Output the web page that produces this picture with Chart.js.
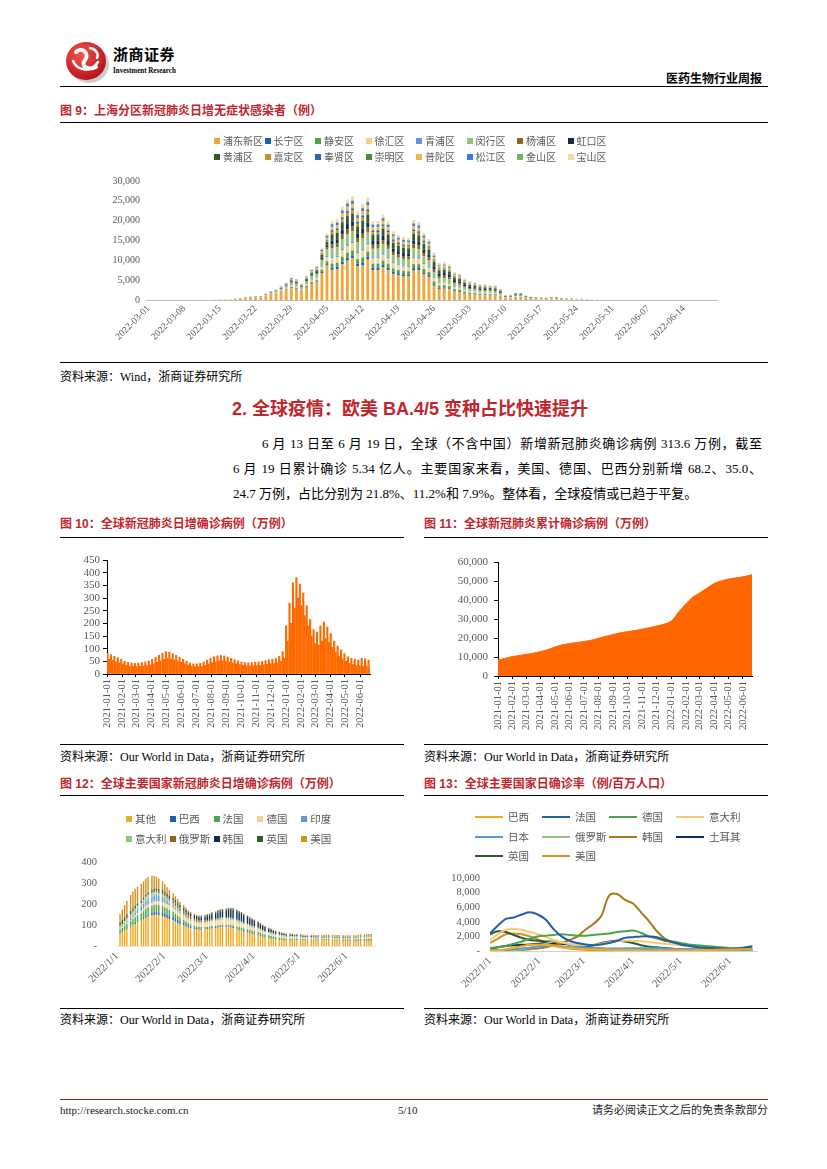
<!DOCTYPE html>
<html lang="zh-CN">
<head>
<meta charset="utf-8">
<title>医药生物行业周报 5/10</title>
<script src="https://cdn.jsdelivr.net/npm/chart.js@4.4.1/dist/chart.umd.min.js"></script>
<style>
    html, body { margin: 0; padding: 0; background: #fff; }
    .page {
        position: relative; width: 827px; height: 1169px; overflow: hidden;
        font-family: "Liberation Serif", "Noto Sans CJK SC", serif; color: #000;
    }
    .page > * { position: absolute; }
    .rule { height: 0; border-top: 1px solid #000; }
    .rule.thick { border-top-width: 1.5px; }
    .brand-cn { font-family: "Noto Sans CJK SC", sans-serif; font-weight: bold; font-size: 15px; line-height: 15px; letter-spacing: 0.5px; }
    .brand-en { font-size: 9px; line-height: 9px; font-weight: bold; transform: scaleX(0.78); transform-origin: left top; white-space: nowrap; }
    .report-name { font-family: "Noto Sans CJK SC", sans-serif; font-weight: bold; font-size: 12px; line-height: 12px; }
    .fig-title { font-family: "Liberation Sans", "Noto Sans CJK SC", sans-serif; font-weight: bold; font-size: 12px; line-height: 12px; color: #c0262d; white-space: nowrap; }
    .section { font-family: "Liberation Sans", "Noto Sans CJK SC", sans-serif; font-weight: bold; font-size: 18px; line-height: 19px; color: #c0262d; white-space: nowrap; }
    .source { font-size: 12px; line-height: 12px; white-space: nowrap; }
    .para { font-size: 13px; line-height: 16px; white-space: nowrap; }
    .para.justify { white-space: normal; text-align: justify; text-align-last: justify; }
    .footer { font-size: 11px; line-height: 11px; white-space: nowrap; color: #222; }
    .legend { color: #595959; }
    .legend .item { position: absolute; white-space: nowrap; line-height: 14px; }
    .legend .box { display: inline-block; width: 6px; height: 6px; margin-right: 3px; vertical-align: 1px; }
    .legend .line { display: inline-block; width: 28px; height: 2px; margin-right: 5px; vertical-align: 3px; }
</style>
</head>
<body>
<div class="page">
    <svg style="left:63px;top:37px" width="48" height="48" viewBox="0 0 48 48">
        <defs>
            <radialGradient id="logoRed" cx="38%" cy="32%" r="75%">
                <stop offset="0" stop-color="#f2554d"/>
                <stop offset="1" stop-color="#b10f19"/>
            </radialGradient>
        </defs>
        <ellipse cx="26" cy="27" rx="20" ry="19" fill="#9a9a9a" opacity="0.5"/>
        <ellipse cx="23" cy="24" rx="20" ry="19" fill="url(#logoRed)"/>
        <path d="M13 15 C 19 9, 27 17, 22 23 S 25 34, 33 30" stroke="#fff" stroke-width="4" fill="none" stroke-linecap="round"/>
        <path d="M10 24 C 14 33, 27 37, 35 25" stroke="#fff" stroke-width="2.5" fill="none" stroke-linecap="round"/>
        <path d="M27 11 C 33 12, 36 17, 34 21" stroke="#fff" stroke-width="2.5" fill="none" stroke-linecap="round"/>
    </svg>
    <div class="brand-cn" style="left:113px;top:46px">浙商证券</div>
    <div class="brand-en" style="left:113px;top:66px">Investment Research</div>
    <div class="report-name" style="right:65px;top:72px">医药生物行业周报</div>
    <div class="rule" style="left:60px;top:86px;width:708px"></div>

    <div class="fig-title" style="left:60px;top:105px">图 9：上海分区新冠肺炎日增无症状感染者（例）</div>
    <div class="rule thick" style="left:60px;top:122px;width:708px"></div>
    <canvas id="chart9" width="708" height="235" style="left:60px;top:125px"></canvas>
    <div class="legend" id="legend9" style="left:214px;top:135px;font-size:10px"></div>
    <div class="rule" style="left:60px;top:362px;width:708px"></div>
    <div class="source" style="left:60px;top:371px">资料来源：Wind，浙商证券研究所</div>

    <div class="section" style="left:232px;top:400px">2. 全球疫情：欧美 BA.4/5 变种占比快速提升</div>
    <div class="para justify" style="left:262px;top:436px;width:500px">6 月 13 日至 6 月 19 日，全球（不含中国）新增新冠肺炎确诊病例 313.6 万例，截至</div>
    <div class="para justify" style="left:233px;top:461px;width:529px">6 月 19 日累计确诊 5.34 亿人。主要国家来看，美国、德国、巴西分别新增 68.2、35.0、</div>
    <div class="para" style="left:233px;top:486px">24.7 万例，占比分别为 21.8%、11.2%和 7.9%。整体看，全球疫情或已趋于平复。</div>

    <div class="fig-title" style="left:60px;top:518px">图 10：全球新冠肺炎日增确诊病例（万例）</div>
    <div class="fig-title" style="left:424px;top:518px">图 11：全球新冠肺炎累计确诊病例（万例）</div>
    <div class="rule thick" style="left:60px;top:537px;width:344px"></div>
    <div class="rule thick" style="left:424px;top:537px;width:344px"></div>
    <canvas id="chart10" width="344" height="202" style="left:60px;top:540px"></canvas>
    <canvas id="chart11" width="344" height="202" style="left:424px;top:540px"></canvas>
    <div class="rule" style="left:60px;top:744px;width:344px"></div>
    <div class="rule" style="left:424px;top:744px;width:344px"></div>
    <div class="source" style="left:60px;top:751px">资料来源：Our World in Data，浙商证券研究所</div>
    <div class="source" style="left:424px;top:751px">资料来源：Our World in Data，浙商证券研究所</div>

    <div class="fig-title" style="left:60px;top:778px">图 12：全球主要国家新冠肺炎日增确诊病例（万例）</div>
    <div class="fig-title" style="left:424px;top:778px">图 13：全球主要国家日确诊率（例/百万人口）</div>
    <div class="rule thick" style="left:60px;top:795px;width:344px"></div>
    <div class="rule thick" style="left:424px;top:795px;width:344px"></div>
    <canvas id="chart12" width="344" height="208" style="left:60px;top:798px"></canvas>
    <canvas id="chart13" width="344" height="208" style="left:424px;top:798px"></canvas>
    <div class="legend" id="legend12" style="left:126px;top:813px;font-size:10.5px"></div>
    <div class="legend" id="legend13" style="left:475px;top:811px;font-size:10.5px"></div>
    <div class="rule" style="left:60px;top:1008px;width:344px"></div>
    <div class="rule" style="left:424px;top:1008px;width:344px"></div>
    <div class="source" style="left:60px;top:1014px">资料来源：Our World in Data，浙商证券研究所</div>
    <div class="source" style="left:424px;top:1014px">资料来源：Our World in Data，浙商证券研究所</div>

    <div class="rule" style="left:60px;top:1099px;width:708px;border-top-color:#8b2323"></div>
    <div class="footer" style="left:60px;top:1105px">http://research.stocke.com.cn</div>
    <div class="footer" style="left:398px;top:1105px">5/10</div>
    <div class="footer" style="right:59px;top:1105px">请务必阅读正文之后的免责条款部分</div>
</div>

<script>
// ---------- 图 9：上海分区日增无症状感染者（例），首个数据点 = 2022-03-14 ----------
const shFirstDay = 13;
const shTickDays = [0, 7, 14, 21, 28, 35, 42, 49, 56, 63, 70, 77, 84, 91, 98, 105];
const shTickLabels = ['2022-03-01', '2022-03-08', '2022-03-15', '2022-03-22', '2022-03-29', '2022-04-05',
    '2022-04-12', '2022-04-19', '2022-04-26', '2022-05-03', '2022-05-10', '2022-05-17', '2022-05-24',
    '2022-05-31', '2022-06-07', '2022-06-14'];
const shDistricts = ['浦东新区', '长宁区', '静安区', '徐汇区', '青浦区', '闵行区', '杨浦区', '虹口区',
    '黄浦区', '嘉定区', '奉贤区', '崇明区', '普陀区', '松江区', '金山区', '宝山区'];
const shColors = ['#f2a43a', '#1f5fa8', '#4ea34a', '#f5d08e', '#5b9bd5', '#93c47d', '#8b6914', '#0e2d52',
    '#2f5c2c', '#c8922a', '#2a66a8', '#4a8a42', '#f2b65a', '#3b7dd8', '#6db55f', '#f4d9a0'];

const pudong = [78,120,90,120,222,294,438,522,588,588,948,1338,1578,2070,2628, 2943,2756,2153,3146,4051,4462,6807,8720,
    7592,7752,8976,9900,10500,8493,8700,10200,7551,7570,8200,7535,6585,6236,6027,5966,7400,7471,6452,5822,
    3588,2799,2865,2679,2124,1983,1620,1416,1341,1206,1188,1128,1089,834,378,393,561,561,360,261,228,216,192,231,234,162,126,126,87,102,66,39,27,21,15,6];
const changning = [3,4,3,4,7,10,15,17,20,20,32,45,53,69,88, 113,106,83,121,156,172,262,335,
    599,612,709,748,755,671,754,755,596,598,647,595,520,492,476,471,619,590,509,460,
    359,280,287,268,212,198,162,142,134,121,119,113,109,83,38,39,56,56,36,26,23,22,19,23,23,16,13,13,9,10,7,4,3,2,2,1];
const jingan = [4,6,5,6,11,15,22,26,29,29,47,67,79,104,131, 226,212,166,242,312,343,524,671,
    999,1020,1181,1247,1259,1118,1257,1258,994,996,1079,992,867,821,793,785,1032,983,849,766,
    718,560,573,536,425,397,324,283,268,241,238,226,218,167,76,79,112,112,72,52,46,43,38,46,47,32,25,25,17,20,13,8,5,4,3,1];
const xuhui = [7,10,8,10,19,25,37,44,49,49,79,112,132,173,219, 340,318,248,363,467,515,785,1006,
    1399,1428,1653,1746,1762,1565,1760,1761,1391,1394,1511,1388,1213,1149,1110,1099,1444,1376,1189,1072,
    837,653,669,625,496,463,378,330,313,281,277,263,254,195,88,92,131,131,84,61,53,50,45,54,55,38,29,29,20,24,15,9,6,5,4,1];
const qingpu = [2,5,3,3,8,9,14,18,19,21,30,46,52,70,86, 110,108,80,125,150,175,258,340,
    400,408,472,499,503,447,503,503,397,398,432,397,347,328,317,314,413,393,340,306,
    239,187,191,179,142,132,108,94,89,80,79,75,73,56,25,26,37,37,24,17,15,14,13,15,16,11,8,8,6,7,4,3,2,1,1,0];
const minhang = [10,16,12,16,30,39,58,70,78,78,126,178,210,276,350, 566,530,414,605,779,858,1309,1677,
    1998,2040,2362,2494,2517,2235,2514,2515,1987,1992,2158,1983,1733,1641,1586,1570,2063,1966,1698,1532,
    1196,933,955,893,708,661,540,472,447,402,396,376,363,278,126,131,187,187,120,87,76,72,64,77,78,54,42,42,29,34,22,13,9,7,5,2];
const yangpu = [3,3,4,4,8,10,14,18,21,19,33,44,54,68,90, 170,159,124,182,234,257,393,503,
    990,1030,1170,1260,1250,1120,1240,1270,990,1000,1070,1000,860,830,790,780,1040,980,840,770,
    720,556,575,540,420,400,320,285,265,245,235,228,215,170,75,80,110,115,70,53,45,44,37,47,46,33,24,26,17,21,12,8,5,4,3,1];
const hongkou = [3,4,3,5,7,9,15,16,20,21,31,45,52,70,87, 168,160,122,184,230,260,390,505,
    999,1020,1181,1247,1259,1118,1257,1258,994,996,1079,992,867,821,793,785,1032,983,849,766,
    840,650,672,622,498,460,380,328,315,280,278,262,255,193,89,91,132,130,85,60,54,49,46,53,56,37,30,28,21,23,15,9,6,5,4,1];
const huangpu = [5,8,6,8,15,20,29,35,39,39,63,89,105,138,175, 283,265,207,303,390,429,655,839,
    1598,1632,1890,1995,2014,1788,2011,2012,1590,1594,1726,1586,1386,1313,1269,1256,1650,1573,1358,1226,
    1076,840,860,804,637,595,486,425,402,362,356,338,327,250,113,118,168,168,108,78,68,65,58,69,70,49,38,38,26,31,20,12,8,6,5,2];
const jiading = [2,4,4,4,8,9,14,18,19,20,33,44,54,68,89, 115,104,85,119,158,170,265,330,
    605,608,712,744,760,668,750,760,590,602,640,600,515,495,470,475,615,595,505,465,
    355,285,284,270,210,200,160,145,132,123,117,115,107,85,37,40,55,57,35,27,22,23,18,24,22,17,12,14,8,11,6,4,3,2,1,1];
const fengxian = [1,2,2,2,4,5,7,9,10,10,16,22,26,35,44, 57,53,41,61,78,86,131,168,
    395,410,470,502,500,450,505,500,400,395,435,395,350,325,320,310,415,390,342,305,
    240,185,193,178,143,130,110,93,90,79,80,74,74,55,26,25,38,36,25,16,16,13,14,14,17,10,9,7,6,6,5,2,2,1,1,0];
const chongming = [1,1,1,1,2,2,4,4,5,5,8,11,13,17,22, 28,27,21,30,39,43,65,84,
    100,102,118,125,126,112,126,126,99,100,108,99,87,82,79,79,103,98,85,77,
    60,47,48,45,35,33,27,24,22,20,20,19,18,14,6,7,9,9,6,4,4,4,3,4,4,3,2,2,1,2,1,1,0,0,0,0];
const putuo = [4,3,3,5,7,11,15,16,21,20,32,46,52,69,87, 170,159,124,182,234,257,393,503,
    799,816,945,998,1007,894,1006,1006,795,797,863,793,693,656,634,628,825,786,679,613,
    598,467,478,447,354,331,270,236,224,201,198,188,182,139,63,66,94,94,60,44,38,36,32,39,39,27,21,21,15,17,11,7,5,4,3,1];
const songjiang = [4,6,5,6,11,15,22,26,29,29,47,67,79,104,131, 172,157,126,180,236,255,395,500,
    595,615,705,750,752,675,750,758,600,595,650,590,522,490,480,468,622,588,512,458,
    362,278,290,265,214,196,164,140,136,120,121,111,110,82,39,38,57,55,37,25,24,21,20,22,24,15,14,12,9,10,7,4,3,2,2,1];
const jinshan = [1,1,1,1,2,3,3,5,5,4,8,11,13,18,21, 29,26,21,31,38,44,64,85,
    101,100,119,124,127,111,127,125,100,99,109,98,88,81,80,78,104,97,86,76,
    59,48,47,46,35,34,26,24,23,20,19,19,18,14,7,6,9,10,6,4,4,3,3,4,4,3,2,2,1,1,1,1,0,0,0,0];
const baoshan = [5,6,4,7,11,14,23,25,30,29,48,66,80,103,132, 168,161,122,183,232,259,391,505,
    805,810,950,995,1010,890,1010,1000,800,795,860,795,690,660,630,630,820,790,675,615,
    715,562,570,538,428,395,326,281,270,240,240,224,220,165,77,78,113,111,73,51,47,42,39,45,48,31,26,24,18,19,14,7,5,4,3,1];
const shSeries = [pudong, changning, jingan, xuhui, qingpu, minhang, yangpu, hongkou,
    huangpu, jiading, fengxian, chongming, putuo, songjiang, jinshan, baoshan];

// ---------- 图 10 / 图 11：2021-01-01 起的天数 ----------
const monthDays = [0, 31, 59, 90, 120, 151, 181, 212, 243, 273, 304, 334, 365, 396, 424, 455, 485, 516];
const monthLabels = ['2021-01-01', '2021-02-01', '2021-03-01', '2021-04-01', '2021-05-01', '2021-06-01',
    '2021-07-01', '2021-08-01', '2021-09-01', '2021-10-01', '2021-11-01', '2021-12-01', '2022-01-01',
    '2022-02-01', '2022-03-01', '2022-04-01', '2022-05-01', '2022-06-01'];
// 每周两个读数：工作日高点与周末低点（万例）
const dailyHigh = [82,76,70,64,58, 50,46,43,42, 43,45,48,52, 58,66,74,82, 88,86,80,74, 66,58,50,44,40,
    40,42,48,55, 62,68,72,73,71, 67,62,57,52, 47,45,44,45, 46,48,50,53,56, 58,62,70,88,
    190,280,360,380,355, 320,270,215,175, 165,190,205,185, 160,130,110,95, 80,68,62,58,55, 62,60,55];
const dailyLow = [58,54,48,44,40, 34,31,30,29, 30,31,33,36, 40,46,52,58, 62,60,56,52, 46,40,35,31,29,
    29,30,34,39, 44,48,51,52,50, 47,44,40,37, 34,32,31,32, 33,34,36,38,40, 41,44,50,62,
    130,200,260,300,270, 230,190,150,120, 115,130,140,125, 105,85,70,60, 50,42,38,34,32, 30,32,20];
const cumDays = [0, 15, 31, 45, 59, 74, 90, 105, 120, 135, 151, 166, 181, 196, 212, 227, 243, 258, 273, 288,
    304, 319, 334, 349, 365, 380, 396, 410, 424, 439, 455, 470, 485, 500, 516, 530, 535];
const cumCases = [8400, 9300, 10300, 10800, 11400, 12000, 12900, 13900, 15200, 16400, 17100, 17600, 18200,
    18800, 19900, 20900, 21900, 22700, 23400, 23900, 24700, 25400, 26300, 27200, 28900, 33500, 38000,
    41500, 43600, 46000, 48700, 50000, 51000, 51600, 52200, 53000, 53300];

// ---------- 图 12 / 图 13：2022-01-01 起的天数 ----------
const monthDays22 = [0, 31, 59, 90, 120, 151];
const monthLabels22 = ['2022/1/1', '2022/2/1', '2022/3/1', '2022/4/1', '2022/5/1', '2022/6/1'];
const weekStarts12 = [2, 9, 16, 23, 30, 37, 44, 51, 58, 65, 72, 79, 86, 93, 100, 107, 114, 121, 128, 135, 142, 149, 156, 163];
const barOffsets12 = [0, 1.5, 3, 4.5];
const countries12 = ['其他', '巴西', '法国', '德国', '印度', '意大利', '俄罗斯', '韩国', '英国', '美国'];
const colors12 = ['#f4a81d', '#1f5fa8', '#4ea34a', '#f5d08e', '#5b9bd5', '#93c47d', '#8b6914', '#0e2d52', '#2f5c2c', '#d4901e'];
const other12 = [60,65,72,80, 90,98,105,112, 120,128,135,140, 145,148,148,146, 142,138,133,128, 122,116,110,104,
    98,93,88,84, 80,78,77,77, 78,80,82,84, 86,88,89,90, 90,89,88,86, 80,76,72,68, 64,60,57,54, 50,46,43,40,
    37,34,32,30, 28,27,27,26, 26,26,27,27, 27,27,27,27, 27,27,27,27, 27,28,28,28, 27,26,26,26, 25,25,25,25,
    25,25,25,25, 25,25,25,25];
const brazil12 = [1,1,1,1, 2,3,4,5, 6,7,9,10, 12,13,14,15, 16,17,18,18, 17,16,15,14, 12,11,10,9, 8,7,6,6,
    5,5,5,5, 5,5,5,4, 4,4,4,4, 3,3,3,3, 3,3,3,3, 3,2,2,2, 2,2,2,2, 2,2,2,2, 2,2,2,2, 2,2,2,2, 2,2,2,2,
    2,2,2,2, 2,2,2,2, 3,3,3,3, 3,3,4,4, 4,4,4,4];
const france12 = [18,20,23,25, 26,27,28,29, 30,31,33,34, 35,36,35,34, 32,30,28,26, 23,21,19,17, 15,13,11,10,
    9,8,8,7, 7,6,6,6, 6,6,6,7, 7,8,8,9, 10,11,12,13, 13,14,14,14, 14,14,13,13, 12,12,11,11, 10,9,8,7,
    7,6,5,5, 4,4,4,3, 3,3,3,3, 3,3,3,3, 3,3,3,3, 3,3,3,3, 3,3,4,4, 4,5,5,5];
const germany12 = [3,3,4,5, 6,7,8,9, 10,11,12,13, 14,15,16,17, 18,19,19,20, 20,20,20,19, 19,18,18,17,
    16,16,17,18, 19,20,21,22, 22,23,24,24, 24,24,23,22, 21,20,19,17, 16,14,13,12, 11,10,9,9, 8,8,7,7,
    7,6,6,6, 6,6,5,5, 5,4,4,4, 4,3,3,3, 3,3,3,3, 3,3,3,3, 3,3,3,4, 4,4,5,5, 5,6,6,6];
const india12 = [2,3,4,5, 8,10,13,16, 20,24,27,28, 30,30,29,27, 24,21,18,15, 12,10,8,6, 5,4,3,3, 2,2,2,1,
    1,1,1,1, 1,1,1,1, 1,1,1,1, 1,1,1,1, 1,1,1,1, 1,1,1,1, 1,1,1,1, 1,1,1,1, 1,1,1,1, 1,1,1,1, 1,1,1,1,
    1,1,1,1, 1,1,1,1, 1,1,1,1, 1,1,1,1, 1,1,1,1];
const italy12 = [10,11,13,15, 17,18,18,18, 17,17,16,15, 15,14,14,13, 12,11,10,9, 8,7,6,6, 5,5,5,5, 5,5,4,4,
    4,4,4,5, 5,5,6,6, 6,7,7,7, 7,7,7,7, 7,7,7,7, 7,7,6,6, 6,6,6,6, 6,6,6,6, 6,6,5,5, 5,5,4,4, 4,4,4,4,
    3,3,3,3, 3,3,3,3, 2,2,2,2, 2,2,2,3, 3,3,3,3];
const russia12 = [2,2,2,2, 2,2,2,2, 2,3,3,4, 5,6,7,8, 10,11,12,13, 16,17,18,18, 17,16,15,14, 12,11,10,9,
    8,7,6,6, 5,5,5,4, 4,4,3,3, 3,3,3,2, 2,2,2,2, 2,2,2,1, 1,1,1,1, 1,1,1,1, 1,1,1,1, 1,1,1,1, 1,1,1,1,
    1,1,1,1, 1,1,1,1, 1,1,1,1, 1,1,1,1, 1,1,1,1];
const korea12 = [0,0,0,1, 1,1,1,1, 1,1,1,2, 2,2,2,3, 3,4,4,5, 5,6,6,7, 8,9,9,10, 11,12,13,15, 17,19,20,22,
    24,27,28,30, 32,35,37,38, 38,37,36,34, 32,30,28,26, 24,22,20,18, 16,14,12,10, 9,8,7,6, 6,5,5,5,
    5,4,4,4, 4,4,3,3, 3,3,3,3, 2,2,2,2, 2,2,2,1, 1,1,1,1, 1,1,1,1];
const uk12 = [17,18,18,17, 16,14,12,11, 10,9,9,9, 9,9,9,9, 9,8,8,7, 6,6,6,5, 5,5,4,4, 4,4,4,5, 5,6,6,7,
    7,8,8,8, 8,8,8,8, 8,7,7,6, 5,5,4,4, 3,3,3,2, 2,2,2,2, 2,1,1,1, 1,1,1,1, 1,1,1,1, 1,1,1,1, 1,1,1,1,
    1,1,1,1, 1,1,1,1, 1,1,1,1, 1,1,1,1];
const us12 = [40,50,58,65, 75,80,82,80, 80,78,76,72, 68,62,56,50, 42,36,30,26, 22,18,15,13, 11,9,8,7, 6,6,5,5,
    5,4,4,4, 4,3,3,3, 3,3,3,3, 3,3,3,3, 3,3,3,3, 3,3,3,3, 3,3,3,4, 4,4,4,4, 5,5,5,5, 6,6,6,6, 7,7,7,7,
    8,8,9,9, 10,10,10,10, 10,10,10,10, 10,10,10,10, 10,10,10,10];
const series12 = [other12, brazil12, france12, germany12, india12, italy12, russia12, korea12, uk12, us12];

// 图 13：每 5 天一个读数（例/百万人口）
const rateDays = [0,5,10,15,20,25,30,35,40,45,50,55,60,65,70,75,80,85,90,95,100,105,110,115,120,125,130,135,140,145,150,155,160,165];
const countries13 = ['巴西', '法国', '德国', '意大利', '日本', '俄罗斯', '韩国', '土耳其', '英国', '美国'];
const colors13 = ['#f4a81d', '#1f5fa8', '#4ea34a', '#f7c878', '#5b9bd5', '#93c47d', '#a67c1a', '#0e2d52', '#2f5c2c', '#d4901e'];
const brazil13 = [50,100,250,450,650,850,900,850,700,500,400,300,250,230,200,180,150,120,100,90,80,80,80,90,100,110,120,130,150,180,200,220,240,250];
const france13 = [2400,3500,4400,4600,5000,5300,5000,4300,3000,2000,1400,1100,900,800,900,1100,1400,1800,1900,2000,2000,1900,1500,1200,900,700,550,450,400,350,300,350,450,600];
const germany13 = [400,500,700,1000,1300,1700,2000,2100,2200,2300,2200,2100,2100,2200,2300,2400,2600,2700,2800,2500,2000,1700,1400,1300,1100,900,800,700,600,500,400,350,450,700];
const italy13 = [1500,2300,2900,3000,2900,2600,2300,1900,1500,1200,1000,850,800,850,1000,1200,1350,1400,1400,1350,1250,1100,1000,900,800,700,600,500,450,400,350,400,500,550];
const japan13 = [20,40,120,250,350,450,600,700,700,650,550,500,450,420,380,350,340,360,380,390,390,370,350,300,250,280,300,270,250,200,170,140,120,110];
const russia13 = [120,120,110,120,200,400,700,1000,1300,1200,900,600,450,350,250,200,180,160,140,120,110,100,90,80,70,60,60,50,50,40,40,30,30,30];
const korea13 = [50,60,70,80,120,250,350,500,800,1100,1500,2000,2900,3700,4800,7600,7800,7000,6500,5300,4100,2700,1700,1200,900,750,650,550,450,380,320,280,250,220];
const turkey13 = [300,500,700,800,850,900,1000,1100,1100,1000,900,700,500,400,300,250,200,180,160,150,130,100,80,60,50,40,30,30,20,20,20,20,20,20];
const uk13 = [2300,2700,2600,2200,1800,1500,1400,1300,1300,1100,900,700,600,800,1100,1300,1400,1300,1100,800,600,500,400,300,250,200,180,150,120,100,100,120,150,200];
const us13 = [1100,1700,2300,2400,2300,2000,1600,1200,800,500,350,250,180,130,100,90,90,90,100,110,120,140,160,170,180,210,240,270,300,320,300,310,320,310];
const series13 = [brazil13, france13, germany13, italy13, japan13, russia13, korea13, turkey13, uk13, us13];

// ---------- helpers ----------
Chart.defaults.font.family = '"Liberation Serif", "Noto Sans CJK SC", serif';
Chart.defaults.color = '#595959';

const thousands = v => v === 0 ? '0' : v.toLocaleString('en-US');
const dashZero = v => v === 0 ? '-' : v.toLocaleString('en-US');

function dateAxis(cfg) {
    return {
        type: 'linear',
        min: cfg.min,
        max: cfg.max,
        offset: false,
        stacked: !!cfg.stacked,
        afterBuildTicks: axis => { axis.ticks = cfg.days.map(v => ({ value: v })); },
        afterFit: axis => { axis.height = cfg.height; },
        grid: cfg.tickMarks
            ? { display: true, offset: false, drawOnChartArea: false, drawTicks: true, tickLength: 3, color: '#000' }
            : { display: false, offset: false, drawTicks: false },
        border: { display: true, color: cfg.lineColor, width: 1 },
        ticks: {
            autoSkip: false,
            minRotation: cfg.rotation,
            maxRotation: cfg.rotation,
            padding: cfg.padding,
            font: { size: cfg.fontSize },
            callback: v => cfg.labels[cfg.days.indexOf(v)] ?? ''
        }
    };
}

function valueAxis(cfg) {
    return {
        min: 0,
        max: cfg.max,
        stacked: !!cfg.stacked,
        afterFit: axis => { axis.width = cfg.width; },
        grid: cfg.tickMarks
            ? { display: true, drawOnChartArea: false, drawTicks: true, tickLength: 4, color: '#000' }
            : { display: false, drawTicks: false },
        border: { display: !!cfg.tickMarks, color: '#000', width: 1 },
        ticks: { autoSkip: false, stepSize: cfg.step, padding: cfg.padding, font: { size: cfg.fontSize }, callback: cfg.format }
    };
}

function baseOptions(padding, x, y) {
    return {
        responsive: false,
        animation: false,
        devicePixelRatio: 1,
        layout: { padding },
        plugins: { legend: { display: false }, tooltip: { enabled: false } },
        scales: { x, y }
    };
}

function buildLegend(id, names, colors, layout) {
    const box = document.getElementById(id);
    names.forEach((name, i) => {
        const item = document.createElement('div');
        item.className = 'item';
        item.style.left = (i % layout.perRow) * layout.colWidth + 'px';
        item.style.top = Math.floor(i / layout.perRow) * layout.rowHeight + 'px';
        item.innerHTML = `<span class="${layout.marker}" style="background:${colors[i]}"></span>${name}`;
        box.appendChild(item);
    });
}

// ---------- 图 9 ----------
new Chart(document.getElementById('chart9'), {
    type: 'bar',
    data: {
        datasets: shDistricts.map((name, i) => ({
            label: name,
            data: shSeries[i].map((v, j) => ({ x: shFirstDay + j, y: v })),
            backgroundColor: shColors[i],
            barPercentage: 0.55,
            categoryPercentage: 1
        }))
    },
    options: baseOptions(
        { left: 26, top: 56, right: 51, bottom: 0 },
        dateAxis({ min: -0.5, max: 111.5, days: shTickDays, labels: shTickLabels, height: 60, rotation: 45,
            padding: 3, fontSize: 9.5, lineColor: '#bfbfbf', stacked: true }),
        valueAxis({ max: 30000, step: 5000, width: 60, padding: 6, fontSize: 10, format: thousands, stacked: true })
    )
});
buildLegend('legend9', shDistricts, shColors, { perRow: 8, colWidth: 50.5, rowHeight: 16, marker: 'box' });

// ---------- 图 10 ----------
const dailyPoints = [];
dailyHigh.forEach((v, w) => {
    dailyPoints.push({ x: w * 7 + 1, y: v });
    dailyPoints.push({ x: w * 7 + 4, y: dailyLow[w] });
});
new Chart(document.getElementById('chart10'), {
    type: 'bar',
    data: {
        datasets: [{ label: '日增确诊', data: dailyPoints, backgroundColor: '#ff6a00', barPercentage: 1, categoryPercentage: 1 }]
    },
    options: baseOptions(
        { left: 0, top: 20, right: 34, bottom: 0 },
        dateAxis({ min: 0, max: 536, days: monthDays, labels: monthLabels, height: 68, rotation: 90,
            padding: 2, fontSize: 10.5, lineColor: '#000', tickMarks: true }),
        valueAxis({ max: 450, step: 50, width: 47, padding: 3, fontSize: 11, format: v => String(v), tickMarks: true })
    )
});

// ---------- 图 11 ----------
new Chart(document.getElementById('chart11'), {
    type: 'line',
    data: {
        datasets: [{
            label: '累计确诊',
            data: cumDays.map((d, i) => ({ x: d, y: cumCases[i] })),
            backgroundColor: '#ff6600',
            borderColor: '#ff6600',
            borderWidth: 1,
            fill: 'origin',
            pointRadius: 0,
            tension: 0.3
        }]
    },
    options: baseOptions(
        { left: 0, top: 22, right: 16, bottom: 0 },
        dateAxis({ min: 0, max: 535, days: monthDays, labels: monthLabels, height: 66, rotation: 90,
            padding: 2, fontSize: 10.5, lineColor: '#000', tickMarks: true }),
        valueAxis({ max: 60000, step: 10000, width: 74, padding: 6, fontSize: 11, format: thousands, tickMarks: true })
    )
});

// ---------- 图 12 ----------
new Chart(document.getElementById('chart12'), {
    type: 'bar',
    data: {
        datasets: countries12.map((name, i) => ({
            label: name,
            data: series12[i].map((v, j) => ({ x: weekStarts12[Math.floor(j / 4)] + barOffsets12[j % 4], y: v })),
            backgroundColor: colors12[i],
            barPercentage: 0.62,
            categoryPercentage: 1
        }))
    },
    options: baseOptions(
        { left: 0, top: 64, right: 29, bottom: 0 },
        dateAxis({ min: 0, max: 170, days: monthDays22, labels: monthLabels22, height: 60, rotation: 45,
            padding: 4, fontSize: 10.5, lineColor: '#e3e3e3', stacked: true }),
        valueAxis({ max: 400, step: 100, width: 57, padding: 20, fontSize: 10.5, format: dashZero, stacked: true })
    )
});
buildLegend('legend12', countries12, colors12, { perRow: 5, colWidth: 43.8, rowHeight: 20, marker: 'box' });

// ---------- 图 13 ----------
new Chart(document.getElementById('chart13'), {
    type: 'line',
    data: {
        datasets: countries13.map((name, i) => ({
            label: name,
            data: series13[i].map((v, j) => ({ x: rateDays[j], y: v })),
            borderColor: colors13[i],
            borderWidth: 2,
            pointRadius: 0,
            fill: false,
            tension: 0.35
        }))
    },
    options: baseOptions(
        { left: 0, top: 80, right: 11, bottom: 0 },
        dateAxis({ min: 0, max: 168, days: monthDays22, labels: monthLabels22, height: 55, rotation: 45,
            padding: 4, fontSize: 10.5, lineColor: '#d0d0d0' }),
        valueAxis({ max: 10000, step: 2000, width: 66, padding: 10, fontSize: 10.5, format: dashZero })
    )
});
buildLegend('legend13', countries13, colors13, { perRow: 4, colWidth: 67, rowHeight: 19.5, marker: 'line' });
</script>
</body>
</html>
